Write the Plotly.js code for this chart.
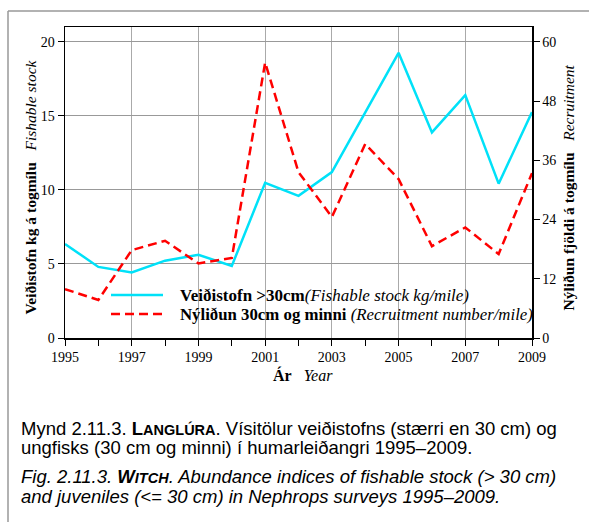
<!DOCTYPE html>
<html><head><meta charset="utf-8">
<script src="https://cdn.plot.ly/plotly-3.0.1.min.js"></script>
<style>html,body{margin:0;padding:0;background:#fff;}#c{width:589px;height:522px;}</style>
</head><body><div id="c"></div>
<script>
var years = [1995,1996,1997,1998,1999,2000,2001,2002,2003,2004,2005,2006,2007,2008,2009];
var fishable = [6.35,4.8,4.43,5.22,5.62,4.86,10.48,9.6,11.2,15.2,19.26,13.88,16.4,10.42,15.25];
var recruitment = [9.9,7.7,17.8,19.7,15.1,16.2,55.8,33.6,24.5,39.3,32.2,18.6,22.4,17.0,33.4];
var xTickVals = [1995,1997,1999,2001,2003,2005,2007,2009];
var xTickText = ['1995','1997','1999','2001','2003','2005','2007','2009'];
var yTickVals = [0,5,10,15,20];
var y2TickVals = [0,12,24,36,48,60];
var nameFish = '<b>Veiðistofn &gt;30cm</b><i>(Fishable stock kg/mile)</i>';
var nameRec = '<b>Nýliðun 30cm og minni</b> <i>(Recruitment number/mile)</i>';

var serif = 'Liberation Serif, Times New Roman, serif';
var sans = 'Liberation Sans, Arial, sans-serif';
var cyan = '#00e1f8', red = '#ff0000', redDash = '9px,5px';

var traces = [
  {x: years, y: fishable, type: 'scatter', mode: 'lines', name: nameFish,
   line: {color: cyan, width: 2.5}},
  {x: years, y: recruitment, type: 'scatter', mode: 'lines', name: nameRec, yaxis: 'y2',
   line: {color: red, width: 2.5, dash: redDash}}
];

function px(x){return (x-65)/467;}
function py(y){return (338-y)/311;}

var caption = [
  {t: 'Mynd 2.11.3. <b>L<span style="font-size:14.5px">ANGLÚRA</span></b>. Vísitölur veiðistofns (stærri en 30 cm) og', y: 428},
  {t: 'ungfisks (30 cm og minni) í humarleiðangri 1995–2009.', y: 447},
  {t: '<i>Fig. 2.11.3. <b>W<span style="font-size:14.5px">ITCH</span></b>. Abundance indices of fishable stock (&gt; 30 cm)</i>', y: 476},
  {t: '<i>and juveniles (&lt;= 30 cm) in Nephrops surveys 1995–2009.</i>', y: 496}
];
var annotations = caption.map(function(c){
  return {xref:'paper', yref:'paper', x: px(19), y: py(c.y), xanchor:'left', yanchor:'middle',
    text: c.t, showarrow:false, font:{family: sans, size: 18.5, color:'#000'}, align:'left'};
});
// axis titles
annotations.push({xref:'paper', yref:'paper', x: px(30), y: py(187.5), xanchor:'center', yanchor:'middle',
  textangle: -90, showarrow:false, font:{family: serif, size: 15.5, color:'#000'},
  text: '<b>Veiðistofn kg á togmílu</b>   <i>Fishable stock</i>'});
annotations.push({xref:'paper', yref:'paper', x: px(568), y: py(187.5), xanchor:'center', yanchor:'middle',
  textangle: -90, showarrow:false, font:{family: serif, size: 15.5, color:'#000'},
  text: '<b>Nýliðun fjöldi á togmílu</b>   <i>Recruitment</i>'});
annotations.push({xref:'paper', yref:'paper', x: px(303), y: py(375), xanchor:'center', yanchor:'middle',
  showarrow:false, font:{family: serif, size: 16, color:'#000'},
  text: '<b>Ár</b>   <i>Year</i>'});
// legend texts
annotations.push({xref:'paper', yref:'paper', x: px(178), y: py(295), xanchor:'left', yanchor:'middle',
  showarrow:false, font:{family: serif, size: 17, color:'#000'}, text: nameFish});
annotations.push({xref:'paper', yref:'paper', x: px(178), y: py(314), xanchor:'left', yanchor:'middle',
  showarrow:false, font:{family: serif, size: 16.8, color:'#000'}, text: nameRec});

var layout = {
  width: 589, height: 522,
  margin: {l: 65, r: 57, t: 27, b: 184},
  paper_bgcolor: '#fff', plot_bgcolor: '#fff',
  font: {family: serif, size: 14, color: '#000'},
  showlegend: false,
  xaxis: {range: [1995, 2009], tickvals: xTickVals, ticktext: xTickText,
    ticks: 'outside', ticklen: 6, tickcolor: '#000', showline: true, linecolor: '#000', linewidth: 1.5,
    mirror: true, showgrid: true, gridcolor: '#aaaaaa', gridwidth: 1, zeroline: false,
    minor: {dtick: 1, tick0: 1995, ticks: 'outside', ticklen: 6, tickcolor: '#000', showgrid: false},
    tickfont: {family: serif, size: 14}},
  yaxis: {range: [0, 21], tickvals: yTickVals, ticks: 'outside', ticklen: 6, tickcolor: '#000',
    showline: true, linecolor: '#000', linewidth: 1.5, showgrid: true, gridcolor: '#999999', gridwidth: 1,
    zeroline: false, tickfont: {family: serif, size: 14}},
  yaxis2: {range: [0, 63], tickvals: y2TickVals, overlaying: 'y', side: 'right', ticks: 'outside', ticklen: 6,
    tickcolor: '#000', showline: true, linecolor: '#000', linewidth: 1.5, showgrid: false, zeroline: false,
    tickfont: {family: serif, size: 14}},
  shapes: [
    {type:'line', xref:'paper', yref:'paper', x0: px(8), x1: px(600), y0: py(11), y1: py(11), line:{color:'#999', width:1.5}},
    {type:'line', xref:'paper', yref:'paper', x0: px(8), x1: px(8), y0: py(11), y1: py(530), line:{color:'#999', width:1.5}},
    {type:'line', xref:'paper', yref:'paper', x0: px(111), x1: px(163), y0: py(295), y1: py(295), line:{color: cyan, width:2.5}},
    {type:'line', xref:'paper', yref:'paper', x0: px(111), x1: px(163), y0: py(314), y1: py(314), line:{color: red, width:2.5, dash: redDash}}
  ],
  annotations: annotations
};
Plotly.newPlot('c', traces, layout, {staticPlot: true, displayModeBar: false});
</script></body></html>
